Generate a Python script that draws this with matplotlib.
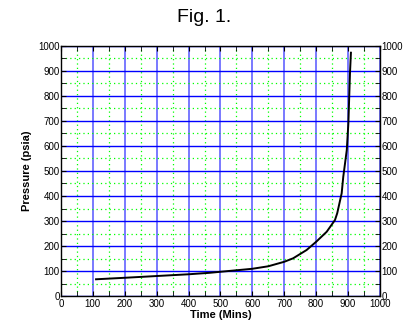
import matplotlib
matplotlib.use("Agg")
import matplotlib.pyplot as plt
import numpy as np
from matplotlib.ticker import MultipleLocator

plt.rcParams["font.family"] = ["Liberation Sans", "DejaVu Sans"]

# curve
TIME = [110, 200, 300, 400, 467, 500, 600, 650, 700, 728, 770, 800, 833, 859, 866,
        880, 885, 896, 901, 906, 909]
PRESSURE = [67, 73, 80, 87, 93, 97, 109, 119, 137, 151, 184, 217, 257, 304, 331,
            411, 477, 584, 691, 891, 973]

fig = plt.figure(figsize=(4.09, 3.33), dpi=100)
ax = fig.add_axes([0.149, 0.111, 0.78, 0.751])

ax.set_xlim(0, 1000)
ax.set_ylim(0, 1000)
ax.xaxis.set_major_locator(MultipleLocator(100))
ax.xaxis.set_minor_locator(MultipleLocator(50))
ax.yaxis.set_major_locator(MultipleLocator(100))
ax.yaxis.set_minor_locator(MultipleLocator(50))

ax.grid(which="minor", color="#00ff00", linestyle=(0, (1, 2.5)), linewidth=0.9)
ax.grid(which="major", axis="y", color="#0000ff", linestyle="-", linewidth=1.0)
ax.grid(which="major", axis="x", color="#3a3aff", linestyle="-", linewidth=1.2, alpha=0.8)
ax.set_axisbelow(True)

ax.plot(TIME, PRESSURE, color="black", linewidth=1.4, zorder=3)

ax.tick_params(which="both", direction="in", top=True, right=True,
               labelright=True, labelsize=7, pad=1)
ax.tick_params(which="major", length=3.5)
ax.tick_params(which="minor", length=3.5)
ax.tick_params(axis="x", pad=2)
for s in ax.spines.values():
    s.set_linewidth(1.0)

ax.set_xlabel("Time (Mins)", fontsize=8, fontweight="bold", labelpad=1)
ax.set_ylabel("Pressure (psia)", fontsize=8, fontweight="bold", labelpad=4)
fig.text(0.5, 0.948, "Fig. 1.", ha="center", va="center", fontsize=14)

fig.savefig("out.png", dpi=100)
